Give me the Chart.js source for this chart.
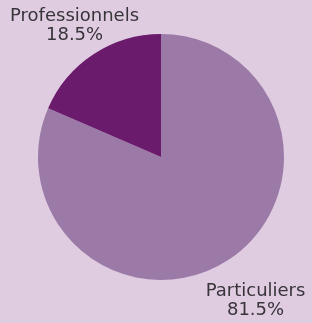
<!DOCTYPE html>
<html><head><meta charset="utf-8">
<script src="https://cdn.jsdelivr.net/npm/chart.js@4"></script>
<style>html,body{margin:0;padding:0;background:#dfcce0;}#wrap{width:312px;height:323px;position:relative;}</style>
</head><body><div id="wrap"><canvas id="c" width="312" height="323"></canvas></div>
<script>
const categories = ["Particuliers", "Professionnels"];
const values = [81.5, 18.5];
const valueLabels = ["81.5%", "18.5%"];
const colors = ["#9b7aa8", "#6b1b6b"];
const labelDist = [1.40, 1.28];

const labelPlugin = {
  id: 'outerLabels',
  afterDatasetsDraw(chart) {
    const ctx = chart.ctx;
    const meta = chart.getDatasetMeta(0);
    ctx.save();
    ctx.fillStyle = '#38343a';
    ctx.textAlign = 'center';
    ctx.textBaseline = 'middle';
    ctx.font = '18px "DejaVu Sans"';
    meta.data.forEach((arc, i) => {
      const p = arc.getProps(['x','y','startAngle','endAngle','outerRadius'], true);
      const mid = (p.startAngle + p.endAngle) / 2;
      const r = p.outerRadius * labelDist[i];
      const cx = p.x + Math.cos(mid) * r;
      const cy = p.y + Math.sin(mid) * r;
      ctx.fillText(categories[i], cx, cy - 9.5);
      ctx.fillText(valueLabels[i], cx, cy + 9.5);
    });
    ctx.restore();
  }
};

new Chart(document.getElementById('c'), {
  type: 'pie',
  data: { labels: categories, datasets: [{ data: values, backgroundColor: colors, borderWidth: 0 }] },
  options: {
    responsive: false, animation: false,
    layout: { padding: { left: 38, right: 28, top: 34, bottom: 43 } },
    plugins: { legend: { display: false }, tooltip: { enabled: false } }
  },
  plugins: [labelPlugin]
});
</script></body></html>
